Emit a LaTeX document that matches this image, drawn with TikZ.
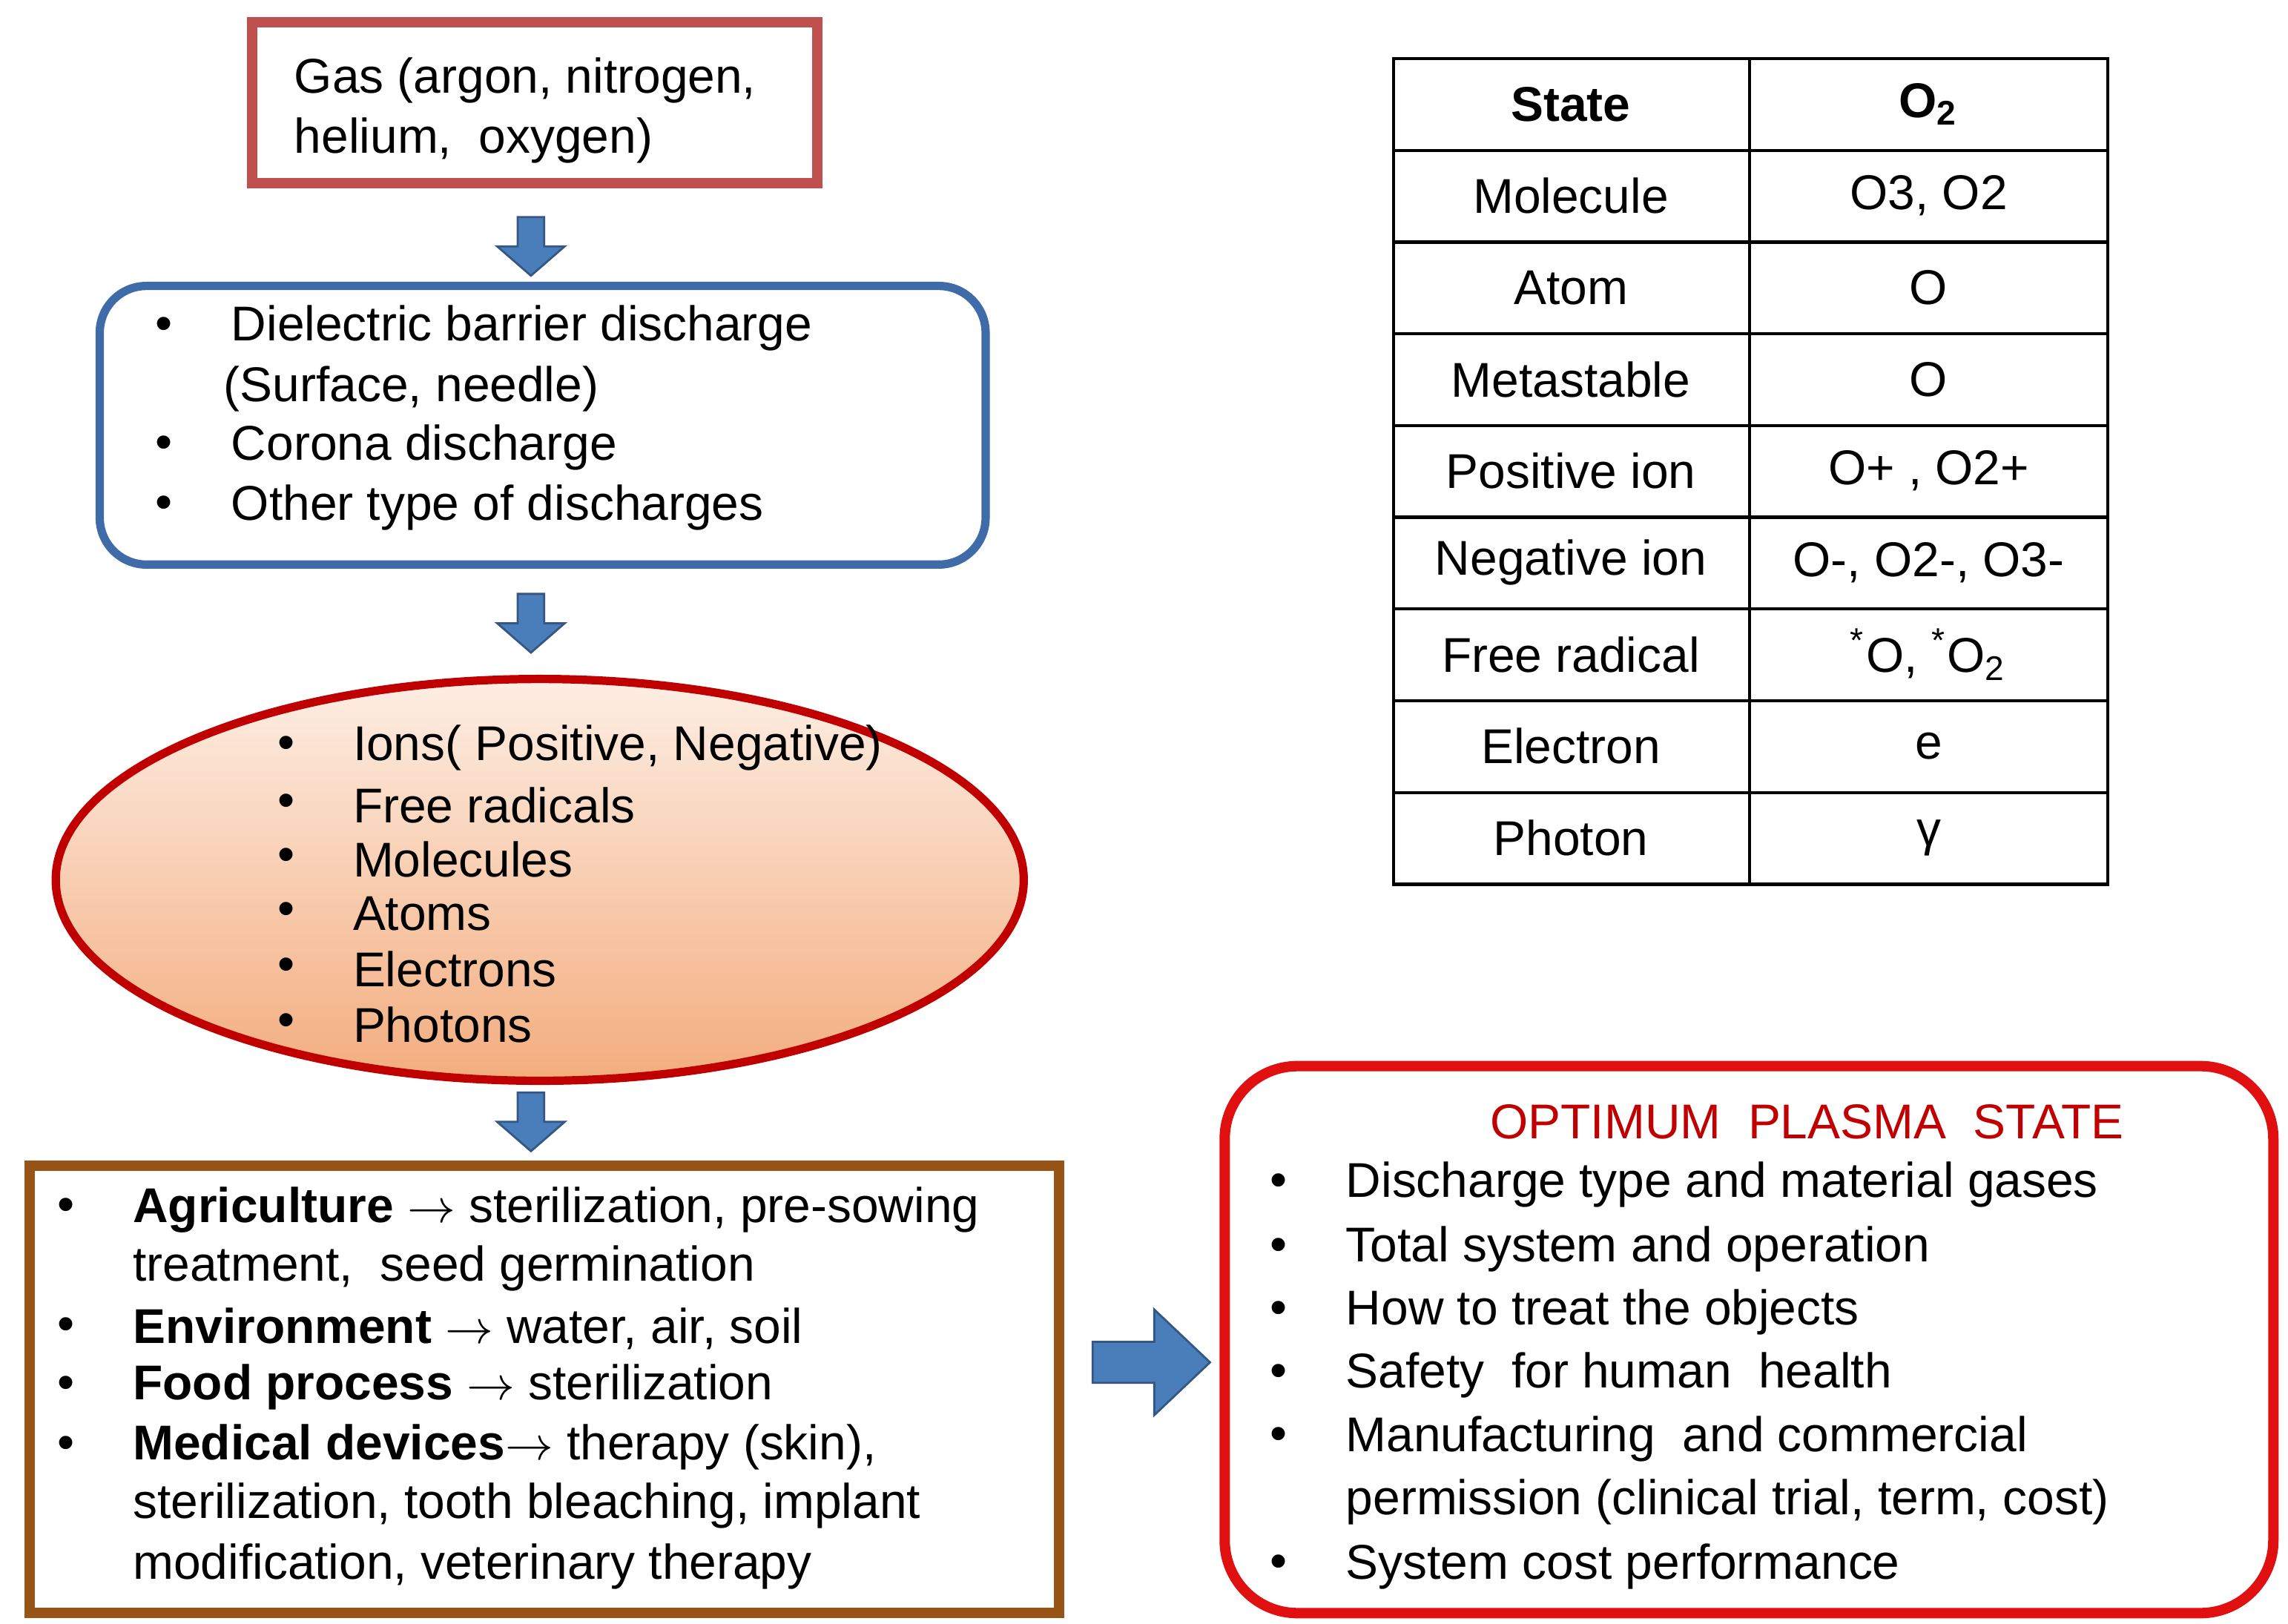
\documentclass[tikz,border=0pt]{standalone}
\usepackage{fontspec}
\setmainfont{Liberation Sans}
\usetikzlibrary{shapes.arrows}
\definecolor{gasred}{HTML}{C0504D}
\definecolor{bluebox}{HTML}{3F6CA8}
\definecolor{elred}{HTML}{C00000}
\definecolor{brown}{HTML}{985416}
\definecolor{optred}{HTML}{E01010}
\definecolor{arrblue}{HTML}{4A7EBB}
\definecolor{peachA}{HTML}{FDEEE4}
\definecolor{peachB}{HTML}{F3AD7E}
\begin{document}
\begin{tikzpicture}[x=0.00992cm,y=-0.00992cm,
  every node/.style={font=\fontsize{9.4}{11.4}\selectfont,inner sep=0pt},
  txt/.style={anchor=west},
  bul/.style={anchor=center},
  barrow/.style={fill=arrblue,draw=arrblue!70!black,line width=0.4pt},
  cell/.style={anchor=center}]
\useasboundingbox (0,0) rectangle (1560,1107);
% gas box
\draw[gasred,line width=2pt] (172,15) rectangle (557,125);
\node[txt] (g1) at (200,55) {Gas (argon, nitrogen,};
\node[txt] (g2) at (200,96) {helium,\ \ oxygen)};
% arrows down
\foreach \y/\n in {148/a1,405/a2,745/a3}{
 \fill[barrow] (353,\y) -- (371,\y) -- (371,\y+20) -- (385,\y+20) -- (362,\y+40) -- (339,\y+20) -- (353,\y+20) -- cycle;}
% blue box
\draw[bluebox,line width=1.6pt,rounded corners=9pt] (68,195) rectangle (672,385);
\foreach \y/\t in {224/{Dielectric barrier discharge},305/{Corona discharge},346/{Other type of discharges}}{
 \node[bul] at (112,\y) {•}; \node[txt] at (157,\y) {\t};}
\node[txt] at (152,265) {(Surface, needle)};
% ellipse
\shade[top color=peachA,bottom color=peachB] (368,600) ellipse [x radius=330,y radius=137];
\draw[elred,line width=1.6pt] (368,600) ellipse [x radius=330,y radius=137];
\foreach \y/\t in {510/{Ions( Positive, Negative)},549/{Free radicals},586/{Molecules},623/{Atoms},661/{Electrons},699/{Photons}}{
 \node[bul] at (195,\y) {•}; \node[txt] at (240,\y) {\t};}
% brown box
\draw[brown,line width=2pt] (20,795) rectangle (722,1100);
\node[bul] at (45,825) {•}; \node[txt] at (90,825) {\textbf{Agriculture} $\rightarrow$ sterilization,\ pre-sowing};
\node[txt] at (90,865) {treatment,\ \ seed germination};
\node[bul] at (45,906) {•}; \node[txt] at (90,906) {\textbf{Environment} $\rightarrow$ water, air, soil};
\node[bul] at (45,946) {•}; \node[txt] at (90,946) {\textbf{Food process} $\rightarrow$ sterilization};
\node[bul] at (45,987) {•}; \node[txt] at (90,987) {\textbf{Medical devices}$\rightarrow$ therapy (skin),};
\node[txt] at (90,1027) {sterilization,\ tooth bleaching,\ implant};
\node[txt] at (90,1068) {modification,\ veterinary therapy};
% right arrow
\fill[barrow] (745,915) -- (787,915) -- (787,893) -- (825,929) -- (787,965) -- (787,943) -- (745,943) -- cycle;
% red box
\draw[optred,line width=2pt,rounded corners=14pt] (835,727) rectangle (1550,1100);
\node[anchor=center,text=elred] at (1232,765) {OPTIMUM\ \ PLASMA\ \ STATE};
\foreach \y/\t in {808/{Discharge type and material gases},852/{Total system and operation},895/{How to treat the objects},938/{Safety\ \ for human\ \ health},981/{Manufacturing\ \ and commercial},1068/{System cost performance}}{
 \node[bul] at (872,\y) {•}; \node[txt] at (917,\y) {\t};}
\node[txt] at (917,1024) {permission (clinical trial, term, cost)};
% table
\draw[line width=0.6pt] (950,40) rectangle (1437,603);
\draw[line width=0.6pt] (1193,40) -- (1193,603);
\foreach \i in {1,...,8}{\draw[line width=0.6pt] (950,40+62.55*\i) -- (1437,40+62.55*\i);}
\foreach \i/\a/\b in {0/{\textbf{State}}/{\textbf{O\textsubscript{2}}},1/Molecule/{O3, O2},2/Atom/O,3/Metastable/O,4/Positive ion/{O+ , O2+},5/Negative ion/{O-, O2-, O3-},6/Free radical/{\textsuperscript{*}O, \textsuperscript{*}O\textsubscript{2}},7/Electron/e,8/Photon/γ}{
 \node[cell] at (1071,71+62.55*\i) {\a};
 \node[cell] at (1315,71+62.55*\i) {\b};}
\end{tikzpicture}
\end{document}
